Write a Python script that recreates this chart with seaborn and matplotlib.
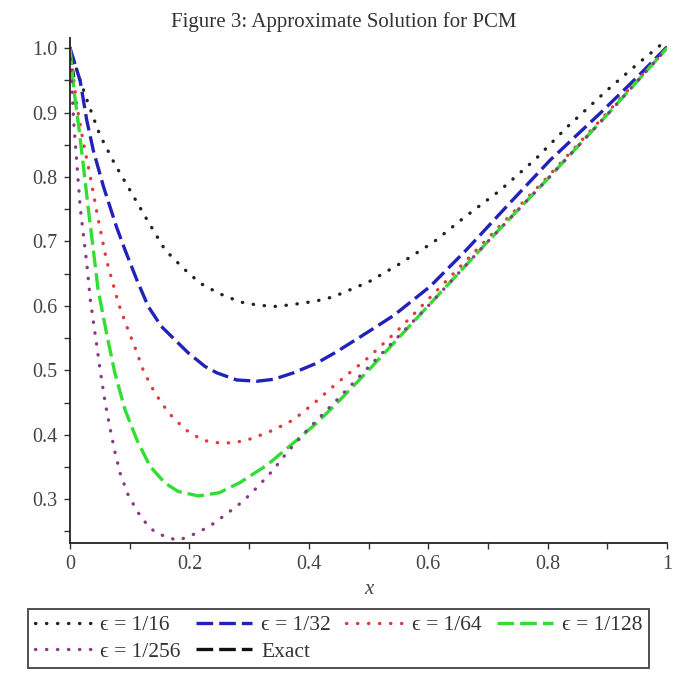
import numpy as np
import pandas as pd
import matplotlib
matplotlib.use('Agg')
import matplotlib.pyplot as plt
import seaborn as sns

# Giá trị (ước lượng)
x_16 = [0, 0.015, 0.03, 0.05, 0.075, 0.1, 0.13, 0.159, 0.19, 0.218, 0.25, 0.285, 0.315, 0.346,
        0.38, 0.41, 0.441, 0.5, 0.55, 0.609, 0.66, 0.72, 0.78, 0.832, 0.9, 0.95, 1.0]
y_16 = [1.0, 0.955, 0.915, 0.865, 0.82, 0.78, 0.732, 0.687, 0.658, 0.635, 0.619, 0.606, 0.601, 0.599,
        0.603, 0.607, 0.614, 0.637, 0.664, 0.699, 0.737, 0.779, 0.828, 0.877, 0.935, 0.975, 1.013]

x_32 = [0, 0.017, 0.028, 0.039, 0.056, 0.078, 0.092, 0.112, 0.131, 0.153, 0.176, 0.198, 0.226, 0.246,
        0.279, 0.313, 0.341, 0.374, 0.413, 0.447, 0.5, 0.542, 0.603, 0.664, 0.731, 0.804, 0.888, 0.95, 1.0]
y_32 = [1.0, 0.949, 0.888, 0.841, 0.785, 0.722, 0.687, 0.640, 0.599, 0.568, 0.547, 0.527, 0.506, 0.496,
        0.485, 0.483, 0.486, 0.496, 0.511, 0.529, 0.56, 0.585, 0.630, 0.687, 0.754, 0.826, 0.899, 0.955, 1.002]

x_64 = [0, 0.011, 0.022, 0.034, 0.047, 0.061, 0.081, 0.095, 0.109, 0.123, 0.142, 0.165, 0.193, 0.221,
        0.24, 0.262, 0.29, 0.307, 0.34, 0.374, 0.41, 0.447, 0.5, 0.55, 0.6, 0.7, 0.8, 0.9, 1.0]
y_64 = [1.0, 0.913, 0.855, 0.80, 0.735, 0.671, 0.604, 0.568, 0.535, 0.499, 0.465, 0.434, 0.408, 0.392,
        0.388, 0.387, 0.39, 0.395, 0.407, 0.423, 0.45, 0.48, 0.52, 0.563, 0.61, 0.705, 0.80, 0.90, 1.0]

x_128 = [0, 0.006, 0.015, 0.022, 0.03, 0.039, 0.047, 0.061, 0.075, 0.092, 0.112, 0.134, 0.159, 0.181,
         0.215, 0.25, 0.285, 0.33, 0.374, 0.413, 0.447, 0.5, 0.6, 0.7, 0.8, 0.9, 1.0]
y_128 = [1.0, 0.939, 0.875, 0.82, 0.755, 0.687, 0.625, 0.558, 0.496, 0.439, 0.392, 0.351, 0.325, 0.312,
         0.305, 0.31, 0.326, 0.353, 0.387, 0.418, 0.449, 0.50, 0.60, 0.70, 0.797, 0.897, 1.0]

x_256 = [0, 0.006, 0.017, 0.028, 0.034, 0.039, 0.045, 0.05, 0.059, 0.067, 0.075, 0.084, 0.098, 0.12,
         0.142, 0.162, 0.181, 0.201, 0.218, 0.24, 0.262, 0.29, 0.313, 0.34, 0.363, 0.4, 0.447, 0.5,
         0.6, 0.7, 0.8, 0.9, 1.0]
y_256 = [1.0, 0.887, 0.753, 0.666, 0.609, 0.576, 0.537, 0.503, 0.449, 0.41, 0.374, 0.34, 0.305, 0.27,
         0.249, 0.241, 0.236, 0.243, 0.25, 0.262, 0.277, 0.297, 0.318, 0.345, 0.372, 0.41, 0.454, 0.505,
         0.60, 0.70, 0.797, 0.897, 1.0]

x_exact = [0, 0.003, 0.006]
y_exact = [1.0, 0.975, 0.955]

labels = ['ϵ = 1/16', 'ϵ = 1/32', 'ϵ = 1/64', 'ϵ = 1/128', 'ϵ = 1/256', 'Exact']

sns.set_style('ticks')
plt.rcParams['font.family'] = ['Liberation Serif', 'DejaVu Serif']

fig = plt.figure(figsize=(6.8, 6.8), dpi=100)
ax = fig.add_axes([0.103, 0.2015, 0.878, 0.742])

dot = (0, (0.1, 3.2))
dash = (0, (5, 1.8))
series = [
    (x_exact, y_exact, '#111111', dash, 'butt', labels[5]),
    (x_16, y_16, '#222222', dot, 'round', labels[0]),
    (x_32, y_32, '#2222bb', dash, 'butt', labels[1]),
    (x_64, y_64, '#e03a3a', dot, 'round', labels[2]),
    (x_128, y_128, '#33dd33', dash, 'butt', labels[3]),
    (x_256, y_256, '#8a3a85', dot, 'round', labels[4]),
]
handles = {}
for xs, ys, c, ls, cap, lab in series:
    df = pd.DataFrame({'x': xs, 'y': ys})
    sns.lineplot(data=df, x='x', y='y', ax=ax, color=c, linestyle=ls,
                 linewidth=2.4, sort=False, estimator=None,
                 dash_capstyle=cap, label=lab, legend=False)
    handles[lab] = ax.lines[-1]

ax.set_xlim(0, 1)
ax.set_ylim(0.232, 1.015)
ax.set_xticks([0, 0.2, 0.4, 0.6, 0.8, 1.0])
ax.set_xticklabels(['0', '0.2', '0.4', '0.6', '0.8', '1'])
ax.set_xticks(np.arange(0.1, 1.0, 0.2), minor=True)
ax.set_yticks([0.3, 0.4, 0.5, 0.6, 0.7, 0.8, 0.9, 1.0])
ax.set_yticklabels(['0.3', '0.4', '0.5', '0.6', '0.7', '0.8', '0.9', '1.0'])
ax.set_yticks(np.arange(0.25, 1.0, 0.1), minor=True)
ax.tick_params(axis='both', which='both', direction='out', length=4, width=1,
               labelsize=14.5, labelcolor='#444444', color='#333333', pad=5)
sns.despine(ax=ax)
for s in ['left', 'bottom']:
    ax.spines[s].set_color('#222222')
    ax.spines[s].set_linewidth(1.3)

ax.set_xlabel('x', fontsize=15, style='italic', color='#444444', labelpad=4)
ax.set_ylabel('')

fig.text(0.505, 0.968, 'Figure 3: Approximate Solution for PCM', ha='center', va='center',
         fontsize=15, color='#333333')

order = ['ϵ = 1/16', 'ϵ = 1/256', 'ϵ = 1/32', 'Exact', 'ϵ = 1/64', 'ϵ = 1/128']
leg = fig.legend([handles[k] for k in order], order, ncol=4, loc='upper center',
                 bbox_to_anchor=(0.498, 0.105), bbox_transform=fig.transFigure,
                 frameon=True, fancybox=False, edgecolor='#222222', fontsize=15.5,
                 handlelength=2.6, handletextpad=0.45, columnspacing=0.7,
                 borderpad=0.3, labelspacing=0.3, borderaxespad=0)
leg.get_frame().set_linewidth(1.4)
for t in leg.get_texts():
    t.set_color('#333333')

fig.savefig('out.png', dpi=100)
